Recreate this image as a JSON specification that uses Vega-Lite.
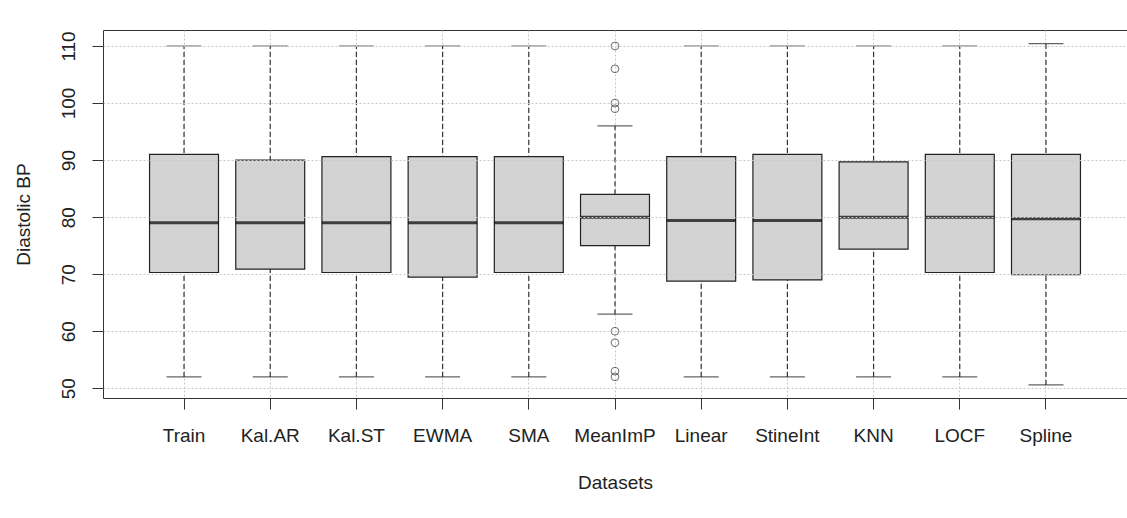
{
  "$schema": "https://vega.github.io/schema/vega-lite/v6.json",
  "width": 1024,
  "height": 368,
  "autosize": {"type": "none"},
  "padding": {"left": 103, "top": 30, "right": 0, "bottom": 120},
  "background": "white",
  "config": {
    "view": {"stroke": "#333", "strokeWidth": 1},
    "font": "Liberation Sans"
  },
  "datasets": {
    "boxes": [
      {"dataset": "Train", "lower": 52, "q1": 70.3, "median": 79, "q3": 91, "upper": 110},
      {"dataset": "Kal.AR", "lower": 52, "q1": 70.9, "median": 79, "q3": 90, "upper": 110},
      {"dataset": "Kal.ST", "lower": 52, "q1": 70.3, "median": 79, "q3": 90.6, "upper": 110},
      {"dataset": "EWMA", "lower": 52, "q1": 69.5, "median": 79, "q3": 90.6, "upper": 110},
      {"dataset": "SMA", "lower": 52, "q1": 70.3, "median": 79, "q3": 90.6, "upper": 110},
      {"dataset": "MeanImP", "lower": 63, "q1": 75, "median": 80, "q3": 84, "upper": 96},
      {"dataset": "Linear", "lower": 52, "q1": 68.8, "median": 79.4, "q3": 90.6, "upper": 110},
      {"dataset": "StineInt", "lower": 52, "q1": 69, "median": 79.4, "q3": 91, "upper": 110},
      {"dataset": "KNN", "lower": 52, "q1": 74.4, "median": 80, "q3": 89.7, "upper": 110},
      {"dataset": "LOCF", "lower": 52, "q1": 70.3, "median": 80, "q3": 91, "upper": 110},
      {"dataset": "Spline", "lower": 50.6, "q1": 69.9, "median": 79.7, "q3": 91, "upper": 110.4}
    ],
    "outliers": [
      {"dataset": "MeanImP", "value": 110},
      {"dataset": "MeanImP", "value": 106},
      {"dataset": "MeanImP", "value": 100},
      {"dataset": "MeanImP", "value": 99},
      {"dataset": "MeanImP", "value": 60},
      {"dataset": "MeanImP", "value": 58},
      {"dataset": "MeanImP", "value": 53},
      {"dataset": "MeanImP", "value": 52}
    ]
  },
  "encoding": {
    "x": {
      "field": "dataset",
      "type": "nominal",
      "sort": ["Train", "Kal.AR", "Kal.ST", "EWMA", "SMA", "MeanImP", "Linear", "StineInt", "KNN", "LOCF", "Spline"],
      "scale": {"type": "band", "paddingInner": 0.2, "paddingOuter": 0.54},
      "axis": {
        "title": "Datasets",
        "labelAngle": 0,
        "labelFontSize": 19,
        "titleFontSize": 19,
        "titleFontWeight": "normal",
        "labelColor": "#222",
        "titleColor": "#222",
        "tickSize": 11,
        "tickColor": "#333",
        "labelPadding": 17,
        "titlePadding": 28,
        "domain": false,
        "grid": true,
        "gridColor": "#c8c8c8",
        "gridDash": [2, 2],
        "bandPosition": 0.5,
        "zindex": 0
      }
    }
  },
  "layer": [
    {
      "data": {"name": "boxes"},
      "mark": {"type": "rule", "color": "#333", "strokeWidth": 1.2, "strokeDash": [5, 3]},
      "encoding": {
        "y": {
          "field": "lower",
          "type": "quantitative",
          "scale": {"domain": [48.3, 112.8], "nice": false, "zero": false},
          "axis": {
            "title": "Diastolic BP",
            "values": [50, 60, 70, 80, 90, 100, 110],
            "labelAngle": 270,
            "labelFontSize": 19,
            "titleFontSize": 19,
            "titleFontWeight": "normal",
            "labelColor": "#222",
            "titleColor": "#222",
            "tickSize": 11,
            "tickColor": "#333",
            "labelPadding": 14,
            "titlePadding": 26,
            "domain": false,
            "grid": true,
            "gridColor": "#c8c8c8",
            "gridDash": [2, 2],
            "zindex": 1
          }
        },
        "y2": {"field": "upper"}
      }
    },
    {
      "data": {"name": "boxes"},
      "mark": {"type": "tick", "color": "#222", "thickness": 1.2, "size": 35},
      "encoding": {"y": {"field": "upper", "type": "quantitative"}}
    },
    {
      "data": {"name": "boxes"},
      "mark": {"type": "tick", "color": "#222", "thickness": 1.2, "size": 35},
      "encoding": {"y": {"field": "lower", "type": "quantitative"}}
    },
    {
      "data": {"name": "boxes"},
      "mark": {"type": "bar", "fill": "#d3d3d3", "stroke": "#222", "strokeWidth": 1.2},
      "encoding": {
        "y": {"field": "q1", "type": "quantitative"},
        "y2": {"field": "q3"}
      }
    },
    {
      "data": {"name": "boxes"},
      "mark": {"type": "tick", "color": "#000", "thickness": 3, "size": 69},
      "encoding": {"y": {"field": "median", "type": "quantitative"}}
    },
    {
      "data": {"name": "outliers"},
      "mark": {"type": "point", "shape": "circle", "filled": false, "stroke": "#333", "strokeWidth": 1, "size": 60},
      "encoding": {"y": {"field": "value", "type": "quantitative"}}
    }
  ]
}
